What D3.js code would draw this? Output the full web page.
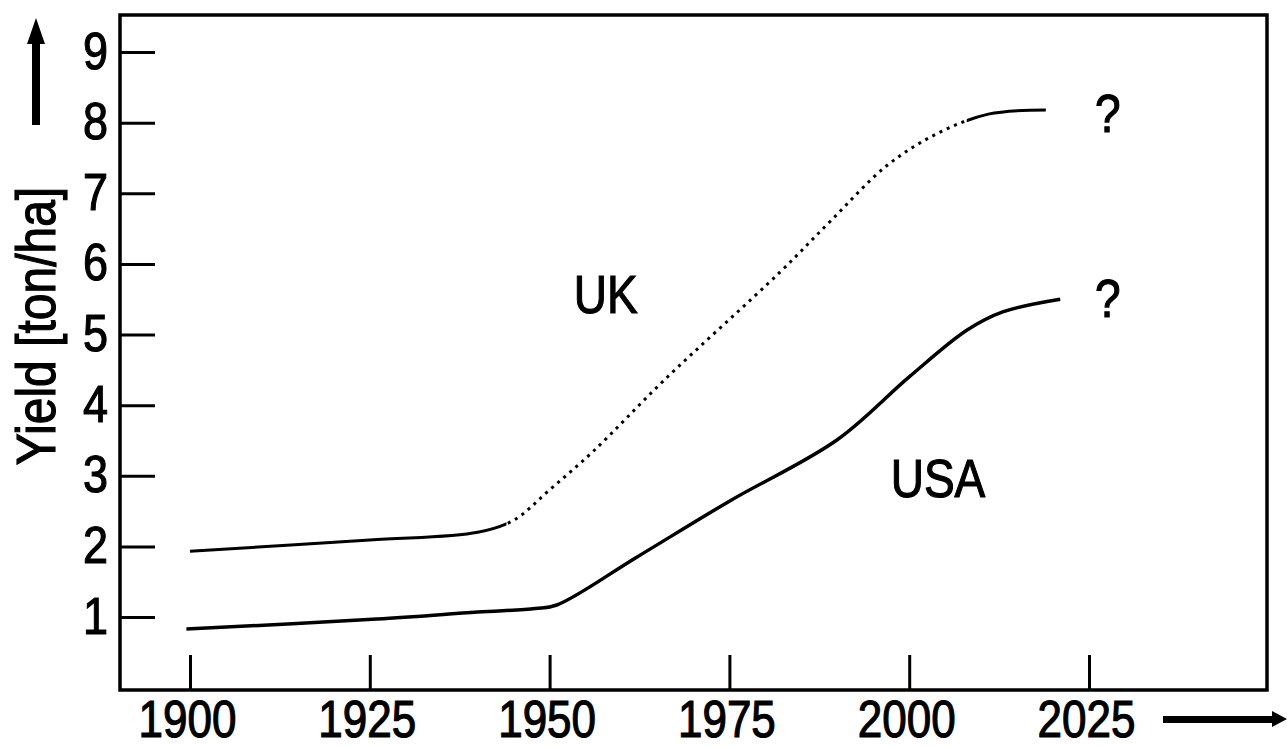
<!DOCTYPE html>
<html>
<head>
<meta charset="utf-8">
<script src="https://cdn.jsdelivr.net/npm/d3@7"></script>
<style>
  html, body { margin: 0; padding: 0; background: #fff; }
  svg { display: block; }
  text { font-family: "Liberation Sans", Arial, Helvetica, sans-serif; fill: #000; stroke: #000; stroke-width: 1; }
</style>
</head>
<body>
<svg id="chart" width="1287" height="747"></svg>
<script>
// values
const xTicks = [1900, 1925, 1950, 1975, 2000, 2025];
const yTicks = [1, 2, 3, 4, 5, 6, 7, 8, 9];

const ukYears = [1900, 1925, 1940, 1945, 1950, 1956, 1966, 1982, 1989, 1997, 2004, 2011, 2019];
const ukYield = [1.93, 2.09, 2.2, 2.37, 2.8, 3.34, 4.36, 5.88, 6.6, 7.4, 7.85, 8.12, 8.18];

const usaYears = [1899.5, 1926, 1940, 1948, 1951, 1962, 1975, 1990, 2000, 2008, 2013, 2021];
const usaYield = [0.83, 0.97, 1.07, 1.12, 1.17, 1.84, 2.64, 3.51, 4.4, 5.06, 5.32, 5.5];

const labels = [
  { text: 'UK', year: 1957.8, value: 5.3 },
  { text: 'USA', year: 2004, value: 2.7 },
  { text: '?', year: 2027.6, value: 7.87 },
  { text: '?', year: 2027.6, value: 5.25 }
];

const frame = { left: 120, top: 15, right: 1267, bottom: 690 };
const tickLen = 35;
const stretch = 1.16; // lettering in the scan is taller than it is wide

let svg = d3.select('#chart');

let x = d3.scaleLinear()
  .domain([1900, 2025])
  .range([190, 1089]);

let y = d3.scaleLinear()
  .domain([1, 9])
  .range([617, 52]);

// frame
svg.append('rect')
  .attr('x', frame.left)
  .attr('y', frame.top)
  .attr('width', frame.right - frame.left)
  .attr('height', frame.bottom - frame.top)
  .attr('fill', 'none')
  .attr('stroke', '#000')
  .attr('stroke-width', 3.5);

// y axis, ticks pointing inward
let yAxis = svg.append('g')
  .attr('transform', `translate(${frame.left},0)`)
  .call(d3.axisLeft(y).tickValues(yTicks).tickFormat(d3.format('d'))
    .tickSizeInner(-tickLen).tickSizeOuter(0).tickPadding(13));

yAxis.select('.domain').remove();
yAxis.selectAll('.tick line').attr('stroke', '#000').attr('stroke-width', 3);
yAxis.selectAll('.tick text')
  .attr('x', null).attr('dy', null)
  .attr('transform', `translate(-12,16) scale(1,${stretch})`)
  .style('font-size', '45px')
  .style('text-anchor', 'end');

// x axis, ticks pointing up
let xAxis = svg.append('g')
  .attr('transform', `translate(0,${frame.bottom})`)
  .call(d3.axisBottom(x).tickValues(xTicks).tickFormat(d3.format('d'))
    .tickSizeInner(-tickLen).tickSizeOuter(0));

xAxis.select('.domain').remove();
xAxis.selectAll('.tick line').attr('stroke', '#000').attr('stroke-width', 3);
xAxis.selectAll('.tick text')
  .attr('y', null).attr('dy', null)
  .attr('transform', `translate(-3,47) scale(1,${stretch})`)
  .style('font-size', '44px')
  .style('text-anchor', 'middle');

// axis title
svg.append('text')
  .attr('transform', `translate(55,326) rotate(-90) scale(1,${stretch})`)
  .style('font-size', '48px')
  .style('text-anchor', 'middle')
  .text('Yield [ton/ha]');

// arrows
svg.append('path')
  .attr('d', 'M32,125 L32,44 L27,44 L36,18 L45,44 L40,44 L40,125 Z')
  .attr('fill', '#000');

svg.append('path')
  .attr('d', 'M1163,716 L1272,716 L1272,711 L1287,719 L1272,727 L1272,723 L1163,723 Z')
  .attr('fill', '#000');

// curves
let line = d3.line()
  .x(d => x(d[0]))
  .y(d => y(d[1]))
  .curve(d3.curveCatmullRom.alpha(0.5));

let ukData = d3.zip(ukYears, ukYield);
let usaData = d3.zip(usaYears, usaYield);

let defs = svg.append('defs');

defs.append('clipPath').attr('id', 'clip-solid')
  .selectAll('rect')
  .data([[0, x(1944)], [x(2008), 1287]])
  .enter()
  .append('rect')
  .attr('x', d => d[0])
  .attr('y', 0)
  .attr('width', d => d[1] - d[0])
  .attr('height', 747);

defs.append('clipPath').attr('id', 'clip-dots')
  .append('rect')
  .attr('x', x(1944))
  .attr('y', 0)
  .attr('width', x(2008) - x(1944))
  .attr('height', 747);

svg.append('path')
  .datum(ukData)
  .attr('d', line)
  .attr('fill', 'none')
  .attr('stroke', '#000')
  .attr('stroke-width', 3)
  .attr('clip-path', 'url(#clip-solid)');

svg.append('path')
  .datum(ukData)
  .attr('d', line)
  .attr('fill', 'none')
  .attr('stroke', '#000')
  .attr('stroke-width', 3)
  .attr('stroke-dasharray', '3 5')
  .attr('clip-path', 'url(#clip-dots)');

svg.append('path')
  .datum(usaData)
  .attr('d', line)
  .attr('fill', 'none')
  .attr('stroke', '#000')
  .attr('stroke-width', 3.5);

// labels
svg.selectAll('.label')
  .data(labels)
  .enter()
  .append('text')
  .classed('label', true)
  .attr('transform', d => `translate(${x(d.year)},${y(d.value)}) scale(1,${stretch})`)
  .style('font-size', '46px')
  .style('text-anchor', 'middle')
  .text(d => d.text);
</script>
</body>
</html>
